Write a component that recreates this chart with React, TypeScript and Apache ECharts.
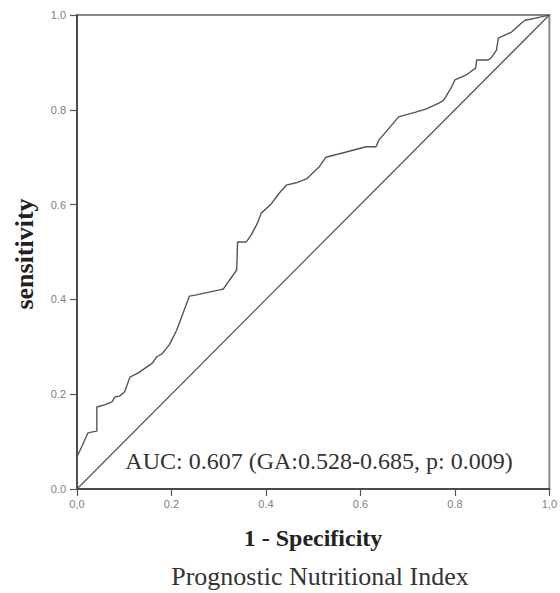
import React, { useEffect, useRef } from "react";
import * as echarts from "echarts";

// ROC curve coordinates: false positive rate (1 - specificity) and sensitivity
const fpr: number[] = [
  0, 0, 0.01, 0.023, 0.03, 0.042, 0.042, 0.06, 0.074, 0.08, 0.09, 0.101, 0.112, 0.13,
  0.16, 0.169, 0.18, 0.196, 0.211, 0.238, 0.25, 0.302, 0.31, 0.338, 0.34, 0.358, 0.369,
  0.382, 0.39, 0.41, 0.428, 0.443, 0.464, 0.487, 0.513, 0.527, 0.57, 0.612, 0.633, 0.639,
  0.681, 0.717, 0.74, 0.766, 0.776, 0.793, 0.8, 0.823, 0.844, 0.846, 0.871, 0.878, 0.888,
  0.892, 0.92, 0.941, 0.949, 0.983, 1,
];
const tpr: number[] = [
  0, 0.068, 0.089, 0.118, 0.12, 0.122, 0.173, 0.178, 0.184, 0.194, 0.196, 0.205, 0.236, 0.245,
  0.266, 0.279, 0.285, 0.305, 0.335, 0.407, 0.409, 0.42, 0.422, 0.462, 0.521, 0.521, 0.536,
  0.561, 0.582, 0.6, 0.624, 0.641, 0.646, 0.655, 0.68, 0.7, 0.711, 0.722, 0.722, 0.736,
  0.785, 0.795, 0.802, 0.814, 0.82, 0.848, 0.863, 0.873, 0.888, 0.905, 0.905, 0.911, 0.926,
  0.951, 0.964, 0.983, 0.989, 0.996, 1,
];

// Reference line of no discrimination
const diagonal: number[][] = [
  [0, 0],
  [1, 1],
];

const tickValues: number[] = [0, 0.2, 0.4, 0.6, 0.8, 1];
const xTickLabels: string[] = ["0,0", "0.2", "0.4", "0.6", "0.8", "1,0"];
const yTickLabels: string[] = ["0.0", "0.2", "0.4", "0.6", "0.8", "1.0"];

const aucText = "AUC: 0.607 (GA:0.528-0.685, p: 0.009)";
const xName = "1 - Specificity";
const yName = "sensitivity";
const chartTitle = "Prognostic Nutritional Index";

const SERIF = "'Liberation Serif', 'Times New Roman', serif";
const SANS = "'Liberation Sans', Arial, sans-serif";

function labelFor(list: string[], v: number): string {
  const i = tickValues.findIndex((t) => Math.abs(t - v) < 1e-6);
  return i >= 0 ? list[i] : "";
}

export default function App() {
  const ref = useRef<HTMLDivElement>(null);

  useEffect(() => {
    if (!ref.current) return;
    const chart = echarts.init(ref.current, undefined, { renderer: "svg" });

    const curve = fpr.map((x, i) => [x, tpr[i]]);

    chart.setOption({
      animation: false,
      backgroundColor: "#ffffff",
      grid: {
        left: 77,
        right: 9,
        top: 15,
        bottom: 104,
        show: true,
        borderColor: "#8a8a8a",
        borderWidth: 2,
        backgroundColor: "transparent",
      },
      xAxis: {
        type: "value",
        min: 0,
        max: 1,
        interval: 0.2,
        axisLine: { show: true, lineStyle: { color: "#4a4a4a", width: 2 } },
        axisTick: { show: true, inside: false, length: 7, lineStyle: { color: "#555", width: 1.2 } },
        splitLine: { show: false },
        axisLabel: {
          color: "#808080",
          fontFamily: SANS,
          fontSize: 11,
          margin: 9,
          formatter: (v: number) => labelFor(xTickLabels, v),
        },
      },
      yAxis: {
        type: "value",
        min: 0,
        max: 1,
        interval: 0.2,
        axisLine: { show: true, lineStyle: { color: "#4a4a4a", width: 2 } },
        axisTick: { show: true, inside: false, length: 7, lineStyle: { color: "#555", width: 1.2 } },
        splitLine: { show: false },
        axisLabel: {
          color: "#808080",
          fontFamily: SANS,
          fontSize: 11,
          margin: 11,
          formatter: (v: number) => labelFor(yTickLabels, v),
        },
      },
      series: [
        {
          type: "line",
          data: diagonal,
          showSymbol: false,
          silent: true,
          lineStyle: { color: "#5a5a5a", width: 1.3 },
          z: 2,
        },
        {
          type: "line",
          data: curve,
          showSymbol: false,
          silent: true,
          lineStyle: { color: "#555", width: 1.4 },
          z: 3,
        },
      ],
      graphic: [
        {
          type: "text",
          x: 319,
          y: 461,
          style: {
            text: aucText,
            fontFamily: SERIF,
            fontSize: 24,
            fill: "#333",
            align: "center",
            verticalAlign: "middle",
          },
        },
        {
          type: "text",
          x: 313,
          y: 538,
          style: {
            text: xName,
            fontFamily: SERIF,
            fontSize: 24,
            fontWeight: "bold",
            fill: "#222",
            align: "center",
            verticalAlign: "middle",
          },
        },
        {
          type: "text",
          x: 24,
          y: 254,
          rotation: Math.PI / 2,
          style: {
            text: yName,
            fontFamily: SERIF,
            fontSize: 26,
            fontWeight: "bold",
            fill: "#222",
            align: "center",
            verticalAlign: "middle",
          },
        },
        {
          type: "text",
          x: 320,
          y: 576,
          style: {
            text: chartTitle,
            fontFamily: SERIF,
            fontSize: 26,
            fill: "#333",
            align: "center",
            verticalAlign: "middle",
          },
        },
      ],
    });

    return () => chart.dispose();
  }, []);

  return (
    <div
      ref={ref}
      style={{ position: "fixed", left: 0, top: 0, width: 560, height: 593 }}
    />
  );
}
